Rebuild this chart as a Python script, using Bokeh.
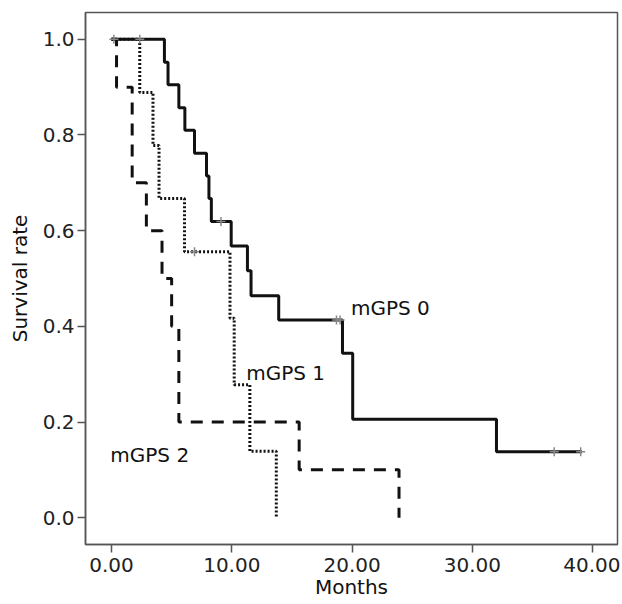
from bokeh.plotting import figure
from bokeh.models import Range1d, FixedTicker, NumeralTickFormatter, Label
from bokeh.embed import file_html
from bokeh.resources import INLINE

# ---- data ----
g0_times = [0.0, 4.4, 4.7, 5.6, 6.1, 6.9, 7.9, 8.1, 8.3, 9.95, 11.3, 11.6, 13.9, 19.2, 20.05, 32.0, 39.1]
g0_surv = [1.0, 0.952, 0.905, 0.857, 0.810, 0.762, 0.714, 0.667, 0.619, 0.568, 0.516, 0.464, 0.413, 0.344, 0.206, 0.138, 0.138]
g0_cens_t = [0.2, 9.1, 18.7, 19.0, 36.8, 39.0]
g0_cens_s = [1.0, 0.619, 0.413, 0.413, 0.138, 0.138]

g1_times = [0.0, 2.35, 3.45, 3.95, 6.07, 9.85, 10.2, 11.5, 13.7]
g1_surv = [1.0, 0.889, 0.778, 0.667, 0.556, 0.417, 0.278, 0.139, 0.0]
g1_cens_t = [2.35, 6.9]
g1_cens_s = [1.0, 0.556]

g2_times = [0.0, 0.42, 1.72, 2.9, 4.2, 5.0, 5.6, 15.6, 23.9]
g2_surv = [1.0, 0.9, 0.7, 0.6, 0.5, 0.4, 0.2, 0.1, 0.0]

group_labels = ["mGPS 0", "mGPS 1", "mGPS 2"]
label_x = [19.9, 11.2, -0.1]
label_y = [0.439, 0.302, 0.132]

x_ticks = [0, 10, 20, 30, 40]
y_ticks = [0.0, 0.2, 0.4, 0.6, 0.8, 1.0]

FONT = "DejaVu Sans"
FS = "20px"

p = figure(width=620, height=602, output_backend="svg", toolbar_location=None,
           x_range=Range1d(-2.16, 42.06), y_range=Range1d(-0.056, 1.056),
           min_border_left=85, min_border_right=3, min_border_top=12, min_border_bottom=58)
p.background_fill_color = "white"
p.border_fill_color = "white"
p.xgrid.visible = False
p.ygrid.visible = False
p.outline_line_color = "#555555"
p.outline_line_width = 1.5

p.step(g0_times, g0_surv, mode="after", line_color="#111111", line_width=3)
p.step(g1_times, g1_surv, mode="after", line_color="#111111", line_width=3, line_dash="2 2")
p.step(g2_times, g2_surv, mode="after", line_color="#111111", line_width=3, line_dash="12 9")

p.scatter(g0_cens_t, g0_cens_s, marker="cross", size=9, line_color="#888888", line_width=1.5)
p.scatter(g1_cens_t, g1_cens_s, marker="cross", size=9, line_color="#888888", line_width=1.5)

for t, lx, ly in zip(group_labels, label_x, label_y):
    p.add_layout(Label(x=lx, y=ly, text=t, text_font=FONT, text_font_size=FS,
                       text_color="#111111", text_baseline="alphabetic"))

for ax in (p.xaxis[0], p.yaxis[0]):
    ax.axis_line_color = "#555555"
    ax.axis_line_width = 1.5
    ax.major_tick_line_color = "#555555"
    ax.major_tick_line_width = 1.5
    ax.major_tick_out = 8
    ax.major_tick_in = 0
    ax.minor_tick_line_color = None
    ax.major_label_text_font = FONT
    ax.major_label_text_font_size = FS
    ax.major_label_text_color = "#222222"
    ax.axis_label_text_font = FONT
    ax.axis_label_text_font_size = FS
    ax.axis_label_text_font_style = "normal"
    ax.axis_label_text_color = "#111111"

p.xaxis[0].ticker = FixedTicker(ticks=x_ticks)
p.xaxis[0].formatter = NumeralTickFormatter(format="0.00")
p.xaxis[0].axis_label = "Months"
p.xaxis[0].axis_label_standoff = 0
p.xaxis[0].major_label_standoff = 5
p.yaxis[0].ticker = FixedTicker(ticks=y_ticks)
p.yaxis[0].formatter = NumeralTickFormatter(format="0.0")
p.yaxis[0].axis_label = "Survival rate"
p.yaxis[0].axis_label_standoff = 8
p.yaxis[0].major_label_standoff = 3

open("out.html", "w").write(file_html(p, INLINE))
